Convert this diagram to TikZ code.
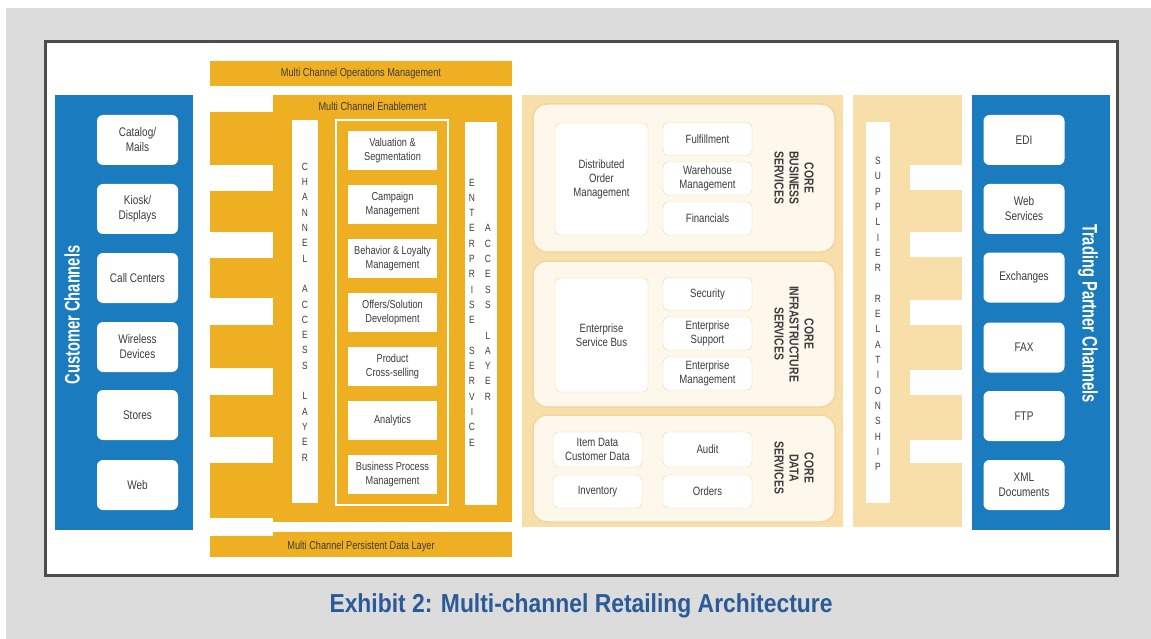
\documentclass[tikz,border=0pt]{standalone}
\usepackage{fontspec}
\setmainfont{Liberation Sans}[FakeStretch=0.8]
\newfontfamily\kapea{Liberation Sans}[FakeStretch=0.7]
\newfontfamily\levea{Liberation Sans}[FakeStretch=0.88]
\definecolor{keltainen}{RGB}{239,175,35}
\definecolor{vaalea}{RGB}{248,223,170}
\definecolor{kerma}{RGB}{254,248,236}
\definecolor{reuna}{RGB}{242,214,160}
\definecolor{sininen}{RGB}{26,123,190}
\definecolor{harmaa}{RGB}{220,220,220}
\definecolor{otsikko}{RGB}{42,90,152}
\definecolor{teksti}{RGB}{60,60,60}

\begin{document}
\begin{tikzpicture}[x=1pt,y=-1pt,
kanava/.style={fill=white, rounded corners=6pt, minimum width=81pt, minimum height=50pt, align=center, text=teksti, font=\fontsize{12.5}{15}\selectfont},
palvelu/.style={fill=white, minimum width=89pt, minimum height=39pt, align=center, text=teksti, font=\fontsize{11.5}{14}\selectfont},
ydin/.style={fill=white, draw=reuna, rounded corners=5pt, minimum width=89pt, minimum height=33pt, align=center, text=teksti, font=\fontsize{12}{14}\selectfont},
pino/.style={align=center, text=teksti, font=\fontsize{10.5}{15.3}\selectfont},
palkki/.style={text=teksti, font=\fontsize{11.5}{12}\selectfont},
otsake/.style={text=white, font=\kapea\bfseries\fontsize{21}{22}\selectfont},
alue/.style={fill=kerma, draw=reuna, line width=1.5pt, rounded corners=14pt},
nimi/.style={rotate=-90, align=center, text=teksti, font=\bfseries\fontsize{13}{15}\selectfont}]
\useasboundingbox (0,0) rectangle (1151,639);
\fill[white] (0,0) rectangle (1151,639);
\fill[harmaa] (6,8) rectangle (1151,639);
\draw[line width=3pt, draw=gray!60!black, fill=white] (45,42) rectangle (1117,575);

% customer channels
\fill[sininen] (55,95) rectangle (193,530);
\node[otsake, rotate=90] (asiakas) at (72,315) {Customer Channels};
\node[kanava] (c1) at (137.5,140) {Catalog/\\Mails};
\node[kanava] (c2) at (137.5,209) {Kiosk/\\Displays};
\node[kanava] (c3) at (137.5,278) {Call Centers};
\node[kanava] (c4) at (137.5,347) {Wireless\\Devices};
\node[kanava] (c5) at (137.5,415) {Stores};
\node[kanava] (c6) at (137.5,485) {Web};

% multi channel layers
\fill[keltainen] (210,61) rectangle (512,86);
\node[palkki] (ops) at (361,73.5) {Multi Channel Operations Management};
\fill[keltainen] (273,95) rectangle (512,522);
\fill[keltainen] (210,112) rectangle (273,165);
\fill[keltainen] (210,191) rectangle (273,232);
\fill[keltainen] (210,258) rectangle (273,298);
\fill[keltainen] (210,325) rectangle (273,368);
\fill[keltainen] (210,395) rectangle (273,437);
\fill[keltainen] (210,463) rectangle (273,518);
\node[palkki] (enab) at (372.5,106.5) {Multi Channel Enablement};
\fill[keltainen] (273,532) rectangle (512,540);
\fill[keltainen] (210,536) rectangle (512,557);
\node[palkki] (pers) at (361,546.5) {Multi Channel Persistent Data Layer};

\fill[white] (292,120) rectangle (318,503);
\node[pino] (cal) at (305,312) {C\\H\\A\\N\\N\\E\\L\\[15.3pt]A\\C\\C\\E\\S\\S\\[15.3pt]L\\A\\Y\\E\\R};
\fill[white] (465,122) rectangle (497,505);
\node[pino] (esl1) at (472,312.5) {E\\N\\T\\E\\R\\P\\R\\I\\S\\E\\[15.3pt]S\\E\\R\\V\\I\\C\\E};
\node[pino] (esl2) at (488,312.5) {A\\C\\C\\E\\S\\S\\[15.3pt]L\\A\\Y\\E\\R};
\draw[white, line width=2pt] (336,120) rectangle (448,505);
\node[palvelu] (e1) at (392.5,150.5) {Valuation \&\\Segmentation};
\node[palvelu] (e2) at (392.5,204.5) {Campaign\\Management};
\node[palvelu] (e3) at (392.5,258.5) {Behavior \& Loyalty\\Management};
\node[palvelu] (e4) at (392.5,312.5) {Offers/Solution\\Development};
\node[palvelu] (e5) at (392.5,366.5) {Product\\Cross-selling};
\node[palvelu] (e6) at (392.5,420.5) {Analytics};
\node[palvelu] (e7) at (392.5,474.5) {Business Process\\Management};

% core services
\fill[vaalea] (522,95) rectangle (843,527);
\draw[alue] (533,104) rectangle (835,252);
\draw[alue] (533,261) rectangle (835,407);
\draw[alue] (533,415) rectangle (835,522);
\node[ydin, minimum width=93pt, minimum height=112pt] (dom) at (601.5,179) {Distributed\\Order\\Management};
\node[ydin] (b1) at (707.5,139) {Fulfillment};
\node[ydin] (b2) at (707.5,178.5) {Warehouse\\Management};
\node[ydin] (b3) at (707.5,218.5) {Financials};
\node[nimi] (bnimi) at (794,178) {CORE\\BUSINESS\\SERVICES};
\node[ydin, minimum width=93pt, minimum height=114pt] (esb) at (601.5,335) {Enterprise\\Service Bus};
\node[ydin] (i1) at (707.5,294) {Security};
\node[ydin] (i2) at (707.5,333.5) {Enterprise\\Support};
\node[ydin] (i3) at (707.5,373.5) {Enterprise\\Management};
\node[nimi] (inimi) at (794,334) {CORE\\INFRASTRUCTURE\\SERVICES};
\node[ydin, minimum height=35pt] (d1) at (597.5,449.5) {Item Data\\Customer Data};
\node[ydin] (d2) at (597.5,491.5) {Inventory};
\node[ydin, minimum height=35pt] (d3) at (707.5,449.5) {Audit};
\node[ydin] (d4) at (707.5,491.5) {Orders};
\node[nimi] (dnimi) at (794,468) {CORE\\DATA\\SERVICES};

% supplier relationship
\fill[vaalea] (853,95) rectangle (962,527);
\fill[white] (866,122) rectangle (890,503);
\node[pino] (srel) at (878,314) {S\\U\\P\\P\\L\\I\\E\\R\\[15.3pt]R\\E\\L\\A\\T\\I\\O\\N\\S\\H\\I\\P};
\fill[white] (910,165) rectangle (962,190);
\fill[white] (910,232) rectangle (962,257);
\fill[white] (910,300) rectangle (962,325);
\fill[white] (910,370) rectangle (962,395);
\fill[white] (910,440) rectangle (962,463);

% trading partner channels
\fill[sininen] (972,95) rectangle (1110,530);
\node[otsake, rotate=-90] (kumppani) at (1088,313.5) {Trading Partner Channels};
\node[kanava] (t1) at (1024,140) {EDI};
\node[kanava] (t2) at (1024,209) {Web\\Services};
\node[kanava] (t3) at (1024,277.5) {Exchanges};
\node[kanava] (t4) at (1024,347.5) {FAX};
\node[kanava] (t5) at (1024,416) {FTP};
\node[kanava] (t6) at (1024,485) {XML\\Documents};

\node[text=otsikko, font=\levea\bfseries\fontsize{26}{28}\selectfont, anchor=base] (kuva) at (581,612) {Exhibit 2: Multi-channel Retailing Architecture};
\end{tikzpicture}
\end{document}
